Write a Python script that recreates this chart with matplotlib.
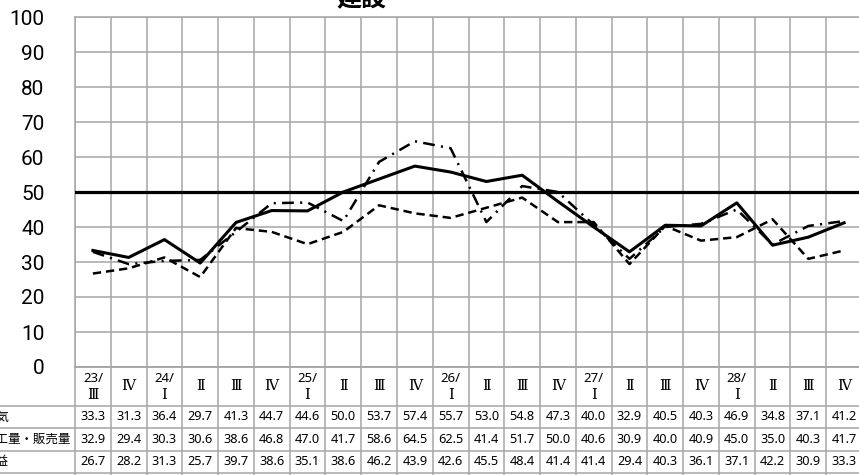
import matplotlib.pyplot as plt
import numpy as np

# data
years = ["23/", "", "24/", "", "", "", "25/", "", "", "", "26/", "", "", "", "27/", "", "", "", "28/", "", "", ""]
quarters = ["Ⅲ", "Ⅳ", "Ⅰ", "Ⅱ", "Ⅲ", "Ⅳ", "Ⅰ", "Ⅱ", "Ⅲ", "Ⅳ", "Ⅰ", "Ⅱ", "Ⅲ", "Ⅳ", "Ⅰ", "Ⅱ", "Ⅲ", "Ⅳ", "Ⅰ", "Ⅱ", "Ⅲ", "Ⅳ"]
series_names = ["景気", "加工量・販売量", "収益"]
keiki = [33.3, 31.3, 36.4, 29.7, 41.3, 44.7, 44.6, 50.0, 53.7, 57.4, 55.7, 53.0, 54.8, 47.3, 40.0, 32.9, 40.5, 40.3, 46.9, 34.8, 37.1, 41.2]
kakou = [32.9, 29.4, 30.3, 30.6, 38.6, 46.8, 47.0, 41.7, 58.6, 64.5, 62.5, 41.4, 51.7, 50.0, 40.6, 30.9, 40.0, 40.9, 45.0, 35.0, 40.3, 41.7]
shueki = [26.7, 28.2, 31.3, 25.7, 39.7, 38.6, 35.1, 38.6, 46.2, 43.9, 42.6, 45.5, 48.4, 41.4, 41.4, 29.4, 40.3, 36.1, 37.1, 42.2, 30.9, 33.3]
title = "建設"
baseline = 50

plt.rcParams['lines.scale_dashes'] = False
W, H = 859, 475
fig = plt.figure(figsize=(W / 100, H / 100), dpi=100)

left, right, top, bottom = 75, 862, 17, 367
grid_c = '#a6a6a6'
n = len(quarters)
x = np.arange(n) + 0.5

ax = fig.add_axes([left / W, 1 - bottom / H, (right - left) / W, (bottom - top) / H])
ax.set_xlim(0, n)
ax.set_ylim(0, 100)
ax.set_xticks(np.arange(n + 1))
ax.set_yticks(np.arange(0, 101, 10))
ax.grid(True, color=grid_c, lw=1.1)
ax.tick_params(length=0, labelbottom=False, pad=22)
for lab in ax.get_yticklabels():
    lab.set_fontfamily('Roboto')
    lab.set_fontsize(15)
for s in ax.spines.values():
    s.set_color(grid_c)
    s.set_linewidth(1.1)

ax.axhline(baseline, color='black', lw=2.3, zorder=3)
ax.plot(x, kakou, color='black', lw=1.8, ls=(0, (8.5, 4.5, 1.5, 4.5)), zorder=4)
ax.plot(x, shueki, color='black', lw=1.8, ls=(0, (6, 3.5)), zorder=4)
ax.plot(x, keiki, color='black', lw=2.2, zorder=5)

fig.text(361 / W, 1 - 10 / H, title, ha='center', va='bottom', fontsize=18,
         fontweight='bold', family=['Noto Sans CJK JP', 'DejaVu Sans'])

# data table under the plot, y in pixels from the plot bottom
tax = fig.add_axes([left / W, 0, (right - left) / W, (H - bottom) / H])
tax.set_xlim(0, n)
tax.set_ylim(H - bottom, 0)
tax.axis('off')
col_w = (right - left) / n
head_h = 38.7
row_h = 22.5
lx = -(left + 16) / col_w

for i in range(n + 1):
    tax.plot([i, i], [0, H - bottom], color=grid_c, lw=1.1, clip_on=False)
tax.plot([0, n], [0, 0], color=grid_c, lw=1.1, clip_on=False)
for r in range(4):
    yy = head_h + r * row_h
    tax.plot([lx, n], [yy, yy], color=grid_c, lw=1.1, clip_on=False)

roman_font = ['DejaVu Serif', 'Noto Sans CJK JP']
for i in range(n):
    if years[i]:
        tax.text(x[i], 11, years[i], ha='center', va='center', fontsize=9.5, family='Noto Sans')
        tax.text(x[i], 28, quarters[i], ha='center', va='center', fontsize=10.5, family=roman_font)
    else:
        tax.text(x[i], head_h / 2, quarters[i], ha='center', va='center', fontsize=10.5,
                 family=roman_font)

for r, (name, vals) in enumerate(zip(series_names, [keiki, kakou, shueki])):
    yc = head_h + r * row_h + row_h / 2
    tax.text(lx, yc, name, ha='left', va='center', fontsize=9,
             family=['Noto Sans CJK JP', 'DejaVu Sans'], clip_on=False)
    for i, v in enumerate(vals):
        tax.text(x[i], yc, f"{v:.1f}", ha='center', va='center', fontsize=9.2, family='Noto Sans')

fig.savefig('out.png', dpi=100)
